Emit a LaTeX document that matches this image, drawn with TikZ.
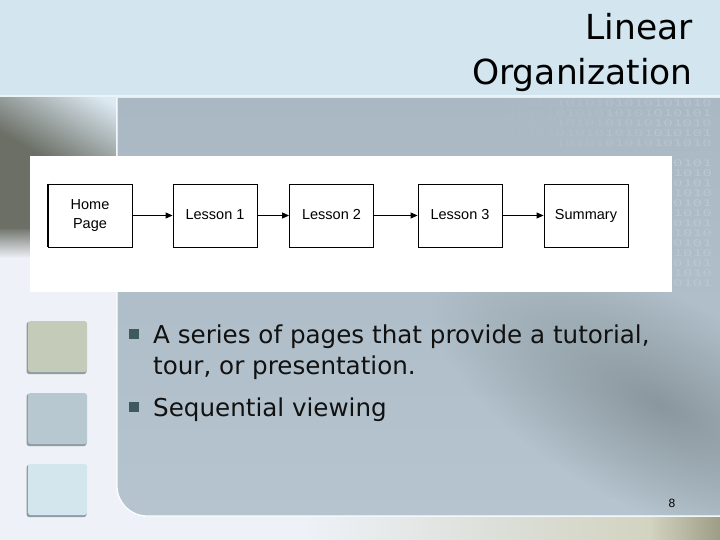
\documentclass[tikz,border=0pt]{standalone}
\usepackage{fontspec}
\usepackage{graphicx}
\setmainfont{DejaVu Sans}
\newfontfamily\boxfont{Liberation Sans}
\newfontfamily\binfont{DejaVu Sans Mono}
\usetikzlibrary{arrows.meta,fadings}
\definecolor{topband}{HTML}{D3E6EF}
\definecolor{topline}{HTML}{EAF3F8}
\definecolor{leftbg}{HTML}{EEF2F8}
\definecolor{lbdark}{HTML}{6B6F66}
\definecolor{lblight}{HTML}{DCE9F2}
\definecolor{ptop}{HTML}{A9B8C2}
\definecolor{pbot}{HTML}{B5C4CE}
\definecolor{pdark}{HTML}{8A979E}
\definecolor{bs2}{HTML}{DCDFD8}
\definecolor{bs3}{HTML}{D2D3C0}
\definecolor{bs4}{HTML}{9E9D86}
\definecolor{sqa}{HTML}{C5CBB9}
\definecolor{sqb}{HTML}{B8C8D0}
\definecolor{sqc}{HTML}{D3E6EE}
\definecolor{sqshadow}{HTML}{8D9CA2}
\definecolor{bullet}{HTML}{3E5A5C}
\definecolor{txt}{HTML}{111111}
\definecolor{bnA}{HTML}{AAB9C3}
\definecolor{bnB}{HTML}{ACBBC5}
\definecolor{bnC}{HTML}{AFBEC8}
\definecolor{bnD}{HTML}{B2C1CB}
\definecolor{bnE}{HTML}{B5C4CE}
\definecolor{bnF}{HTML}{B8C7D1}
\tikzfading[name=softblob, inner color=transparent!0, outer color=transparent!100]
\newcommand{\binfnt}{\binfont\fontsize{9}{9}\selectfont}
\newcommand{\binrowA}{\scalebox{1.8}[1]{\binfnt\textcolor{bnA}{10101}\textcolor{bnB}{01010}\textcolor{bnC}{10101}\textcolor{bnD}{01010}\textcolor{bnE}{101010}}}
\newcommand{\binrowB}{\scalebox{1.8}[1]{\binfnt\textcolor{bnA}{01010}\textcolor{bnB}{10101}\textcolor{bnC}{01010}\textcolor{bnD}{10101}\textcolor{bnE}{010101}}}
\newcommand{\binshortA}{\scalebox{1.8}[1]{\binfnt\textcolor{bnF}{0101}}}
\newcommand{\binshortB}{\scalebox{1.8}[1]{\binfnt\textcolor{bnF}{1010}}}
\tikzset{
  stepbox/.style={draw=black, line width=0.9pt, fill=white, minimum width=84pt, minimum height=63pt, inner sep=0pt, font=\boxfont\fontsize{14.5}{19}\selectfont, align=center},
  oneline/.style={text height=10.5pt, text depth=3.5pt},
  flow/.style={draw=black, line width=0.9pt, -{Triangle[length=7pt,width=6pt]}},
  titletext/.style={anchor=base east, inner sep=0pt, font=\fontsize{34.5}{40}\selectfont, text=black},
  bodytext/.style={anchor=base west, inner sep=0pt, font=\fontsize{24.6}{30}\selectfont, text=txt},
  bulletsq/.style={fill=bullet, minimum size=10pt, inner sep=0pt},
  binrow/.style={anchor=west, inner sep=0pt},
  sqbox/.style={rounded corners=2.5pt},
}
\begin{document}
\begin{tikzpicture}[x=1pt,y=-1pt]
\useasboundingbox (0,0) rectangle (720,540);
% background
\fill[leftbg] (0,0) rectangle (720,540);
\fill[topband] (0,0) rectangle (720,96);
\fill[topline] (0,95.5) rectangle (720,98);
% left gradient block
\begin{scope}
  \clip (0,98) rectangle (116,230);
  \begin{scope}[transform canvas={shift={(60,120)},rotate=60}]
    \fill[lbdark] (-400,-400) rectangle (-40,400);
    \fill[lblight] (40,-400) rectangle (400,400);
    \shade[left color=lbdark, right color=lblight] (-40.5,-400) rectangle (40.5,400);
  \end{scope}
\end{scope}
\shade[top color=lbdark!90!lblight, bottom color=leftbg] (0,229.5) rectangle (116,258);
% panel
\shade[top color=ptop, bottom color=pbot] (117,98) -- (720,98) -- (720,516) -- (147,516) .. controls (130.4,516) and (117,502.6) .. (117,486) -- cycle;
\begin{scope}
  \clip (117,98) -- (720,98) -- (720,516) -- (147,516) .. controls (130.4,516) and (117,502.6) .. (117,486) -- cycle;
  \begin{scope}[transform canvas={shift={(660,405)},rotate=-28,xscale=2.4}]
    \fill[pdark, path fading=softblob] (-105,-105) rectangle (105,105);
  \end{scope}
  \begin{scope}
    \clip (440,98) rectangle (720,286);
    \foreach \k in {0,...,2} {
      \node[binrow] (binA\k) at (458, 103+20*\k) {\binrowA};
    }
    \foreach \k in {0,...,1} {
      \node[binrow] (binB\k) at (458, 113+20*\k) {\binrowB};
    }
    \foreach \k in {0,...,6} {
      \node[binrow] (binC\k) at (673, 163+20*\k) {\binshortA};
    }
    \foreach \k in {0,...,5} {
      \node[binrow] (binD\k) at (673, 173+20*\k) {\binshortB};
    }
  \end{scope}
\end{scope}
\draw[white!85!leftbg, line width=1.3pt] (117,98) -- (117,486) .. controls (117,502.6) and (130.4,516) .. (147,516) -- (720,516);
% bottom strip
\shade[left color=leftbg, right color=bs2] (300,517) rectangle (500,540);
\shade[left color=bs2, right color=bs3] (499.5,517) rectangle (650,540);
\shade[left color=bs3, right color=bs4] (649.5,517) rectangle (720,540);
% side squares
\fill[sqshadow, sqbox] (26.5,322) rectangle (86.5,374);
\fill[sqa, sqbox] (28,321) rectangle (87,372);
\fill[sqshadow, sqbox] (26.5,394) rectangle (86.5,446);
\fill[sqb, sqbox] (28,393) rectangle (87,444);
\fill[sqshadow, sqbox] (26.5,465) rectangle (86.5,517);
\fill[sqc, sqbox] (28,464) rectangle (87,515);
% title
\node[titletext] (title1) at (693,40) {Linear};
\node[titletext] (title2) at (693,85) {Organization};
% white figure
\fill[white] (30,156) rectangle (672,292);
\node[stepbox] (home) at (90,215.5) {Home\\Page};
\draw[black, line width=1.4pt] ([xshift=0.3pt]home.north west) -- ([xshift=0.3pt]home.south west);
\node[stepbox, oneline] (l1) at (215,215.5) {Lesson 1};
\node[stepbox, oneline] (l2) at (331.5,215.5) {Lesson 2};
\node[stepbox, oneline] (l3) at (460,215.5) {Lesson 3};
\node[stepbox, oneline] (sum) at (586,215.5) {Summary};
\draw[flow] (home) -- (l1);
\draw[flow] (l1) -- (l2);
\draw[flow] (l2) -- (l3);
\draw[flow] (l3) -- (sum);
% bullets
\node[bulletsq] (bu1) at (133.5,334) {};
\node[bodytext] (b1) at (153,343) {A series of pages that provide a tutorial,};
\node[bodytext] (b2) at (153,374) {tour, or presentation.};
\node[bulletsq] (bu2) at (133.5,407) {};
\node[bodytext] (b3) at (153,416) {Sequential viewing};
% page number
\node[font=\boxfont\fontsize{12}{14}\selectfont, text=black, inner sep=0pt] (pnum) at (672,503) {8};
\end{tikzpicture}
\end{document}
